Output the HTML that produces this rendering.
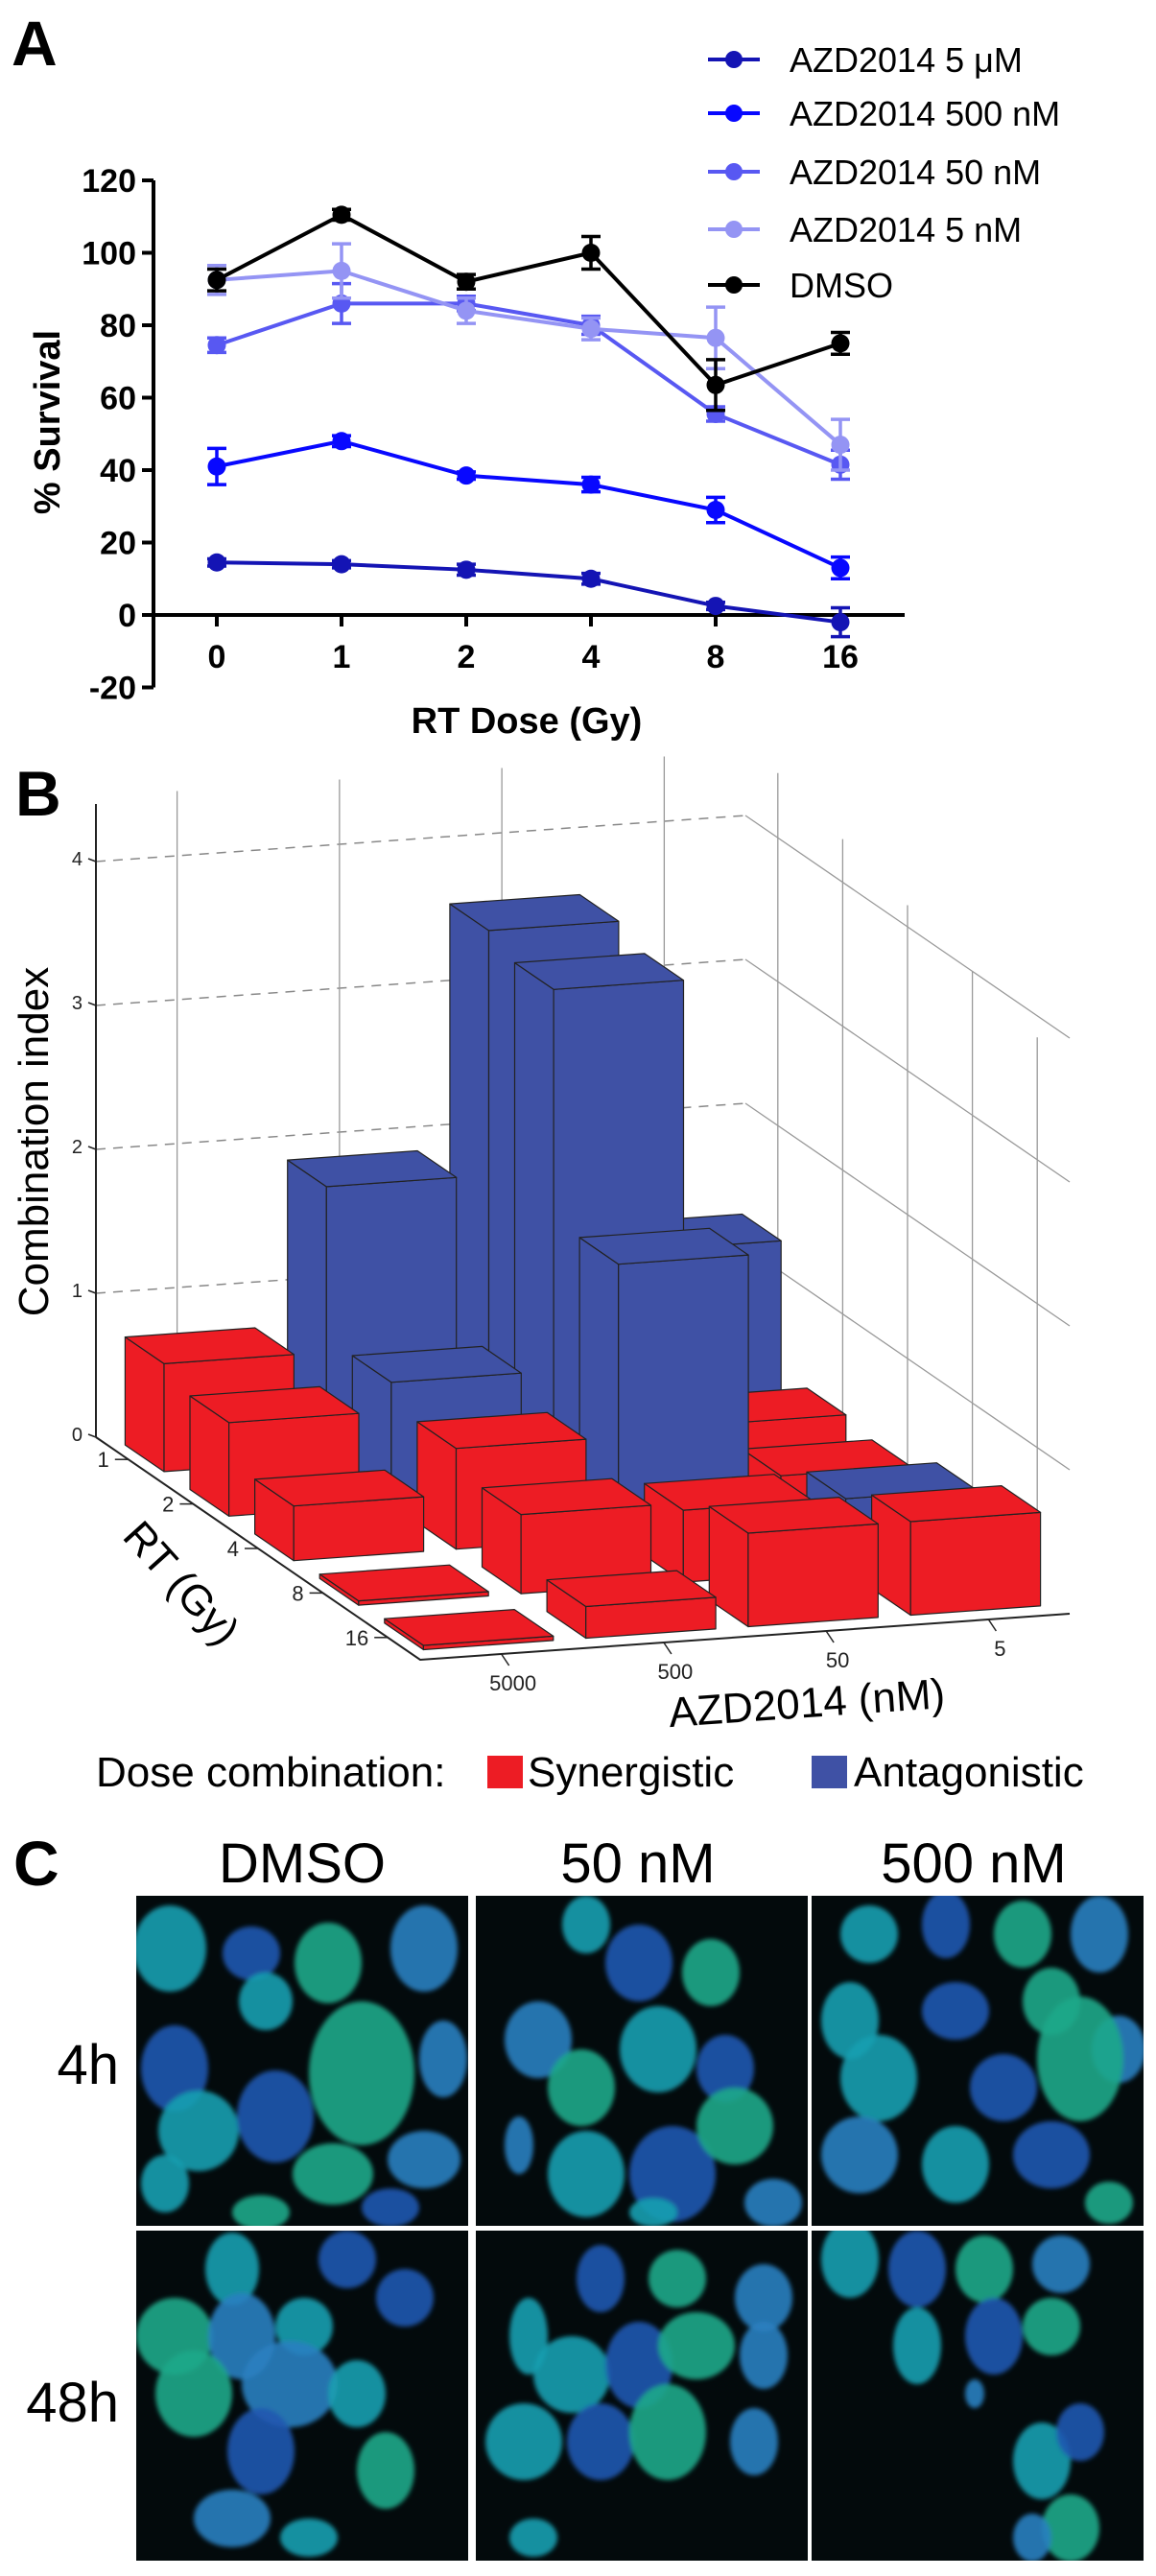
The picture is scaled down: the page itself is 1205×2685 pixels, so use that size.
<!DOCTYPE html>
<html><head><meta charset="utf-8"><style>
html,body{margin:0;padding:0;background:#fff}
svg{display:block}
text{font-family:"Liberation Sans",Arial,sans-serif}
</style></head><body>
<svg id="fig" width="1205" height="2685" viewBox="0 0 1205 2685" xmlns="http://www.w3.org/2000/svg">
<defs>
<filter id="blur" x="-20%" y="-20%" width="140%" height="140%"><feGaussianBlur stdDeviation="2.5"/></filter>
</defs>
<text x="12" y="68" font-size="66" font-weight="bold">A</text>
<g id="panelA"></g>
<text x="16" y="850" font-size="66" font-weight="bold">B</text>
<g id="panelB"></g>
<g>
<text x="100" y="1862" font-size="44">Dose combination:</text>
<rect x="508" y="1830" width="37" height="34" fill="#ed1c24"/>
<text x="550" y="1862" font-size="44">Synergistic</text>
<rect x="846" y="1830" width="37" height="34" fill="#3f51a5"/>
<text x="890" y="1862" font-size="44">Antagonistic</text>
</g>
<text x="14" y="1965" font-size="66" font-weight="bold">C</text>
<g id="panelC"></g>
</svg>
<script>
const NS="http://www.w3.org/2000/svg";
function mk(parent,tag,attrs,txt){const e=document.createElementNS(NS,tag);for(const k in attrs)e.setAttribute(k,attrs[k]);if(txt!==undefined)e.textContent=txt;parent.appendChild(e);return e;}

/* ---------- Panel A data ---------- */
const doseLabels=["0","1","2","4","8","16"];
const yTicks=[-20,0,20,40,60,80,100,120];
const seriesNames=["AZD2014 5 \u03bcM","AZD2014 500 nM","AZD2014 50 nM","AZD2014 5 nM","DMSO"];
const s5uM=[14.5,14,12.5,10,2.5,-2];
const s500nM=[41,48,38.5,36,29,13];
const s50nM=[74.5,86,86,80,55.5,41.5];
const s5nM=[92.5,95,84,79,76.5,47];
const sDMSO=[92.5,110.5,92,100,63.5,75];
const e5uM=[1,1,1.5,1.5,1,4];
const e500nM=[5,1.5,1,2,3.5,3];
const e50nM=[2,5.5,2,2.5,2,4];
const e5nM=[4,7.5,3.5,3,8.5,7];
const eDMSO=[3,1.5,2,4.5,7,3];

const A=document.getElementById('panelA');
const ax={x0:160,x1:943,y0:641,perUnit:75.5/20};
function xA(i){return 226+i*130;}
function yA(v){return ax.y0-v*ax.perUnit;}
let l=mk(A,'line',{x1:ax.x0,y1:yA(-20),x2:ax.x0,y2:yA(120),stroke:'#000','stroke-width':4});

l=mk(A,'line',{x1:ax.x0,y1:yA(0),x2:ax.x1,y2:yA(0),stroke:'#000','stroke-width':4});

yTicks.forEach(t=>{
  mk(A,'line',{x1:ax.x0-12,y1:yA(t),x2:ax.x0,y2:yA(t),stroke:'#000','stroke-width':4});
  const tx=mk(A,'text',{x:ax.x0-18,y:yA(t)+12,'font-size':34,'font-weight':'bold','text-anchor':'end'},String(t));
  
});
doseLabels.forEach((d,i)=>{
  mk(A,'line',{x1:xA(i),y1:yA(0),x2:xA(i),y2:yA(0)+12,stroke:'#000','stroke-width':4});
  const tx=mk(A,'text',{x:xA(i),y:696,'font-size':34,'font-weight':'bold','text-anchor':'middle'},d);
  
});
let t=mk(A,'text',{x:549,y:764,'font-size':38,'font-weight':'bold','text-anchor':'middle'},'RT Dose (Gy)');

t=mk(A,'text',{x:0,y:0,'font-size':38,'font-weight':'bold','text-anchor':'middle',transform:'translate(62,440) rotate(-90)'},'% Survival');


const series=[s5uM,s500nM,s50nM,s5nM,sDMSO];
const errs=[e5uM,e500nM,e50nM,e5nM,eDMSO];
const cols=['#1414b4','#0808ff','#5858f2','#9494f4','#000'];
[0,1,2,3,4].forEach(k=>{
  const g=mk(A,'g',{});
  
  const pts=series[k].map((v,i)=>xA(i)+','+yA(v)).join(' ');
  mk(g,'polyline',{points:pts,fill:'none',stroke:cols[k],'stroke-width':4});
  series[k].forEach((v,i)=>{
    const e=errs[k][i],x=xA(i);
    mk(g,'line',{x1:x,y1:yA(v+e),x2:x,y2:yA(v-e),stroke:cols[k],'stroke-width':3.5});
    mk(g,'line',{x1:x-10,y1:yA(v+e),x2:x+10,y2:yA(v+e),stroke:cols[k],'stroke-width':3.5});
    mk(g,'line',{x1:x-10,y1:yA(v-e),x2:x+10,y2:yA(v-e),stroke:cols[k],'stroke-width':3.5});
    const c=mk(g,'circle',{cx:x,cy:yA(v),r:9.5,fill:cols[k]});
    
  });
});
const legY=[62,118,179,239,297];
seriesNames.forEach((n,k)=>{
  const g=mk(A,'g',{});
  
  mk(g,'line',{x1:738,y1:legY[k],x2:792,y2:legY[k],stroke:cols[k],'stroke-width':4});
  mk(g,'circle',{cx:765,cy:legY[k],r:9,fill:cols[k]});
  mk(g,'text',{x:823,y:legY[k]+13,'font-size':36},n);
});

/* ---------- Panel B data ---------- */
const rtLabels=["1","2","4","8","16"];
const azdLabels=["5000","500","50","5"];
const ciTicks=[0,1,2,3,4];
const ciRT1=[0.75,1.9,3.6,1.3];
const ciRT2=[0.65,0.85,3.5,0.4];
const ciRT4=[0.38,0.7,1.9,0.35];
const ciRT8=[0.03,0.55,0.5,0.5];
const ciRT16=[0.03,0.22,0.65,0.65];
const tpRT1=[0,1,1,1];
const tpRT2=[0,1,1,0];
const tpRT4=[0,0,1,0];
const tpRT8=[0,0,0,1];
const tpRT16=[0,0,0,0];

const B=document.getElementById('panelB');
const O={x:100,y:1498},U={x:67.6,y:46.4},V={x:169.25,y:-12},Z=150;
function P(u,v,z){return [O.x+u*U.x+v*V.x, O.y+u*U.y+v*V.y-z*Z];}
function pstr(a){return a.map(p=>p[0].toFixed(1)+','+p[1].toFixed(1)).join(' ');}
ciTicks.forEach(z=>{ if(z===0) return;
  const a=P(0,0,z),b=P(0,4,z),c=P(5,4,z);
  mk(B,'line',{x1:a[0],y1:a[1],x2:b[0],y2:b[1],stroke:'#888','stroke-width':1.5,'stroke-dasharray':'10,8'});
  mk(B,'line',{x1:b[0],y1:b[1],x2:c[0],y2:c[1],stroke:'#999','stroke-width':1.3});
});
for(let j=0;j<4;j++){const a=P(0,j+0.5,0),b=P(0,j+0.5,4.45);mk(B,'line',{x1:a[0],y1:a[1],x2:b[0],y2:b[1],stroke:'#999','stroke-width':1.3});}
for(let i=0;i<5;i++){const a=P(i+0.5,4,0),b=P(i+0.5,4,4.45-i*0.15);mk(B,'line',{x1:a[0],y1:a[1],x2:b[0],y2:b[1],stroke:'#999','stroke-width':1.3});}
{const a=P(0,0,0),b=P(0,0,4.4);l=mk(B,'line',{x1:a[0],y1:a[1],x2:b[0],y2:b[1],stroke:'#222','stroke-width':2});
}
ciTicks.forEach(z=>{const a=P(0,0,z);
  mk(B,'line',{x1:a[0]-8,y1:a[1]-3,x2:a[0],y2:a[1],stroke:'#222','stroke-width':1.5});
  const tx=mk(B,'text',{x:a[0]-14,y:a[1]+4,'font-size':20,'text-anchor':'end',fill:'#222'},String(z));
  
});
{const a=P(0,0,0),b=P(5,0,0),c=P(5,4,0);
mk(B,'polyline',{points:pstr([a,b,c]),fill:'none',stroke:'#222','stroke-width':2});}
rtLabels.forEach((r,i)=>{const a=P(i+0.5,0,0);
  mk(B,'line',{x1:a[0],y1:a[1],x2:a[0]-14,y2:a[1],stroke:'#222','stroke-width':1.5});
  const tx=mk(B,'text',{x:a[0]-20,y:a[1]+8,'font-size':22,'text-anchor':'end',fill:'#222'},r);
  
});
azdLabels.forEach((r,j)=>{const a=P(5,j+0.5,0);
  mk(B,'line',{x1:a[0],y1:a[1],x2:a[0]+8,y2:a[1]+12,stroke:'#222','stroke-width':1.5});
  const tx=mk(B,'text',{x:a[0]+12,y:a[1]+38,'font-size':22,'text-anchor':'middle',fill:'#222'},r);
  
});
t=mk(B,'text',{x:0,y:0,'font-size':44,'text-anchor':'middle',transform:'translate(50,1190) rotate(-90)'},'Combination index');

t=mk(B,'text',{x:0,y:0,'font-size':44,'text-anchor':'middle',transform:'translate(178,1660) rotate(48)'},'RT (Gy)');

t=mk(B,'text',{x:0,y:0,'font-size':44,'text-anchor':'middle',transform:'translate(842,1790) rotate(-4)'},'AZD2014 (nM)');

const ciRows=[ciRT1,ciRT2,ciRT4,ciRT8,ciRT16];
const tpRows=[tpRT1,tpRT2,tpRT4,tpRT8,tpRT16];
const hu=0.3,hv=0.4;
for(let i=0;i<5;i++){for(let j=3;j>=0;j--){
  const h=ciRows[i][j],col=tpRows[i][j]?'#3f51a5':'#ed1c24';
  const u0=i+0.5-hu,u1=i+0.5+hu,v0=j+0.5-hv,v1=j+0.5+hv;
  const g=mk(B,'g',{fill:col,stroke:'#222','stroke-width':1.2,'stroke-linejoin':'round'});
  
  
  mk(g,'polygon',{points:pstr([P(u0,v0,0),P(u1,v0,0),P(u1,v0,h),P(u0,v0,h)])});
  mk(g,'polygon',{points:pstr([P(u1,v0,0),P(u1,v1,0),P(u1,v1,h),P(u1,v0,h)])});
  mk(g,'polygon',{points:pstr([P(u0,v0,h),P(u1,v0,h),P(u1,v1,h),P(u0,v1,h)])});
}}

/* ---------- Panel C ---------- */
const C=document.getElementById('panelC');
const colX=[142,496,846],rowY=[1976,2325],pw=346,ph=344;
[['DMSO',315],['50 nM',665],['500 nM',1015]].forEach(([s,x])=>{
  const tx=mk(C,'text',{x:x,y:1962,'font-size':58,'text-anchor':'middle'},s);
  
});
[['4h',2172],['48h',2524]].forEach(([s,y])=>{
  const tx=mk(C,'text',{x:124,y:y,'font-size':58,'text-anchor':'end'},s);
  
});
const nuc=[
 [[35,55,38,45],[120,60,30,28],[200,70,35,42],[300,55,35,45],[135,110,28,30],[40,180,35,45],[235,185,55,75],[320,170,25,40],[65,245,42,42],[145,230,40,48],[205,290,42,32],[300,275,38,30],[30,300,25,30],[265,325,30,20],[130,330,30,18]],
 [[115,30,25,30],[170,70,35,40],[245,80,30,35],[65,150,35,40],[190,160,40,45],[260,180,30,35],[110,200,35,40],[45,260,15,30],[115,290,40,45],[205,290,45,50],[270,240,40,40],[310,320,30,25],[185,330,25,15]],
 [[60,40,30,30],[140,30,25,35],[220,40,30,35],[300,40,30,40],[40,130,30,40],[150,120,35,30],[250,110,30,35],[320,160,28,35],[70,190,40,45],[200,200,35,35],[280,170,45,65],[50,270,40,40],[150,280,35,40],[250,270,40,35],[310,320,25,22]],
 [[100,40,28,38],[220,30,30,30],[40,110,40,40],[110,110,35,45],[175,100,30,30],[280,70,30,30],[60,170,40,45],[160,160,50,45],[230,170,30,35],[130,230,35,45],[260,250,30,40],[100,300,40,30],[180,320,30,20]],
 [[55,110,20,40],[130,50,25,35],[210,50,30,30],[300,70,30,35],[100,150,40,40],[170,140,35,45],[230,120,40,35],[300,130,25,35],[50,220,40,40],[130,220,35,40],[200,210,40,50],[290,220,25,35],[60,320,25,20]],
 [[40,30,30,40],[110,40,30,40],[180,40,30,35],[260,35,30,30],[110,120,25,40],[190,110,30,40],[250,100,30,30],[170,170,10,15],[240,240,30,40],[280,210,25,30],[270,310,30,35],[230,320,20,25]]
];
const ncol=['#1a9fb0','#1f58b0','#1ea88a','#2a80c0'];
for(let r=0;r<2;r++)for(let c=0;c<3;c++){
  const k=r*3+c,x0=colX[c],y0=rowY[r];
  const g=mk(C,'g',{});
  
  
  mk(g,'rect',{x:x0,y:y0,width:pw,height:ph,fill:'#030a0c'});
  const cp='clip'+k;const cl=mk(g,'clipPath',{id:cp});mk(cl,'rect',{x:x0,y:y0,width:pw,height:ph});
  const gg=mk(g,'g',{'clip-path':'url(#'+cp+')'});
  const gb=mk(gg,'g',{filter:'url(#blur)'});
  nuc[k].forEach((n,m)=>{mk(gb,'ellipse',{cx:x0+n[0],cy:y0+n[1],rx:n[2],ry:n[3],fill:ncol[m%4],opacity:0.9});});
}
</script>
</body></html>
